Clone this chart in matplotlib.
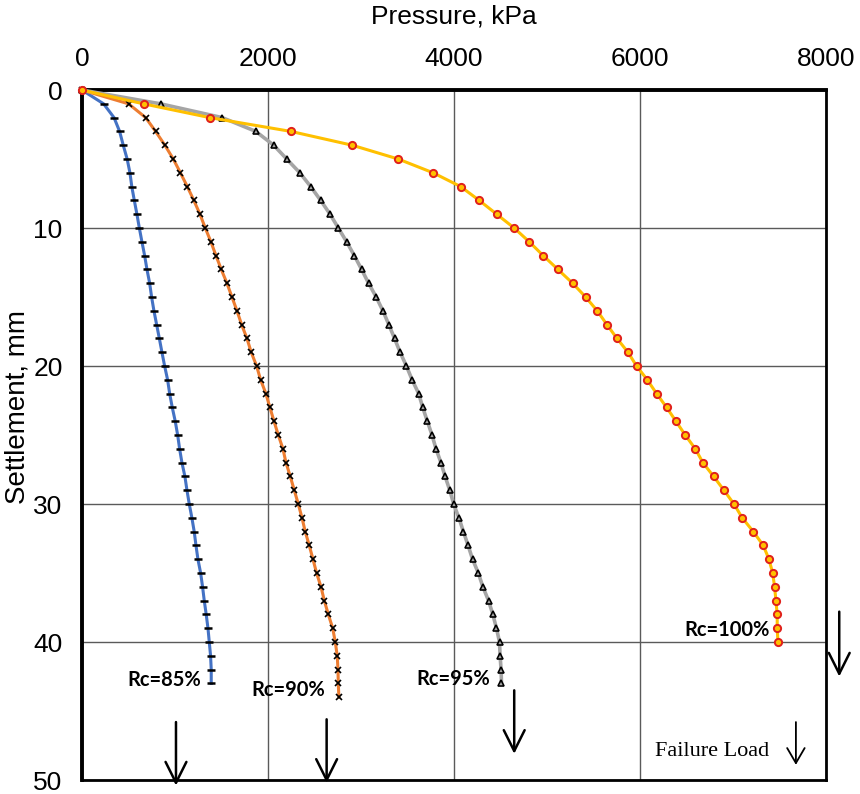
import matplotlib
matplotlib.use("Agg")
import matplotlib.pyplot as plt

# settlement steps (mm) and pressures (kPa), one point per mm
rc85 = [0, 233, 345, 405, 444, 486, 516, 536, 563, 591, 617, 645, 674, 699, 728, 749,
        774, 803, 832, 860, 889, 921, 943, 971, 1003, 1029, 1050, 1075, 1107, 1129, 1154,
        1182, 1207, 1226, 1247, 1276, 1297, 1315, 1336, 1355, 1369, 1383, 1390, 1390]
rc90 = [0, 502, 685, 792, 892, 982, 1059, 1133, 1203, 1269, 1326, 1387, 1441, 1498, 1559,
        1613, 1667, 1717, 1774, 1820, 1878, 1921, 1978, 2021, 2065, 2111, 2161, 2194, 2240,
        2283, 2326, 2366, 2401, 2444, 2484, 2523, 2570, 2606, 2649, 2696, 2724, 2745, 2753,
        2756, 2763]
rc95 = [0, 846, 1509, 1870, 2062, 2202, 2343, 2460, 2567, 2668, 2757, 2846, 2929, 3007,
        3082, 3164, 3236, 3300, 3361, 3421, 3489, 3550, 3621, 3664, 3714, 3764, 3807, 3860,
        3905, 3955, 3997, 4053, 4102, 4152, 4200, 4262, 4311, 4372, 4418, 4457, 4490, 4496,
        4507, 4511]
rc100 = [0, 663, 1376, 2248, 2907, 3401, 3777, 4073, 4272, 4460, 4648, 4810, 4960, 5118,
         5276, 5416, 5541, 5645, 5753, 5871, 5964, 6079, 6179, 6287, 6387, 6487, 6595, 6677,
         6792, 6903, 7011, 7100, 7219, 7326, 7387, 7427, 7448, 7462, 7476, 7476, 7484]

labels = ["Rc=85%", "Rc=90%", "Rc=95%", "Rc=100%"]
label_pos = [(1280, 42.75), (2613, 43.5), (4387, 42.7), (7398, 39.1)]
# failure load arrows: (pressure, top, tip)
failure = [(1011, 45.8, 50.4), (2631, 45.6, 50.2), (4648, 43.5, 48.1), (8143, 37.8, 42.5)]

fig = plt.figure(figsize=(8.6, 7.94), dpi=100)
ax = fig.add_axes([0.0953, 0.0176, 0.8651, 0.8690])

def steps(vals):
    return list(range(len(vals)))

ax.plot(rc85, steps(rc85), color="#4472C4", lw=2.2, marker="_", ms=6, mew=1.8,
        mec="black", clip_on=False, zorder=3)
ax.plot(rc90, steps(rc90), color="#ED7D31", lw=2.2, marker="x", ms=4.5, mew=1.2,
        mec="black", clip_on=False, zorder=3)
ax.plot(rc95, steps(rc95), color="#A5A5A5", lw=2.6, marker="^", ms=5, mew=1.2,
        mec="black", mfc="none", clip_on=False, zorder=3)
ax.plot(rc100, steps(rc100), color="#FFC000", lw=2.2, marker="o", ms=5.2, mew=1.4,
        mec="#E0201B", mfc="#FFC000", clip_on=False, zorder=4)

ax.set_xlim(0, 8000)
ax.set_ylim(50, 0)
ax.set_xticks([0, 2000, 4000, 6000, 8000])
ax.set_yticks([0, 10, 20, 30, 40, 50])
ax.xaxis.tick_top()
ax.xaxis.set_label_position("top")
ax.tick_params(length=0, labelsize=19, pad=14)
for t in ax.get_xticklabels() + ax.get_yticklabels():
    t.set_family("Liberation Sans")

ax.grid(True, color="#5a5a5a", lw=1)
ax.set_axisbelow(True)
for side in ["top", "left", "right", "bottom"]:
    ax.spines[side].set_linewidth(2)
    ax.spines[side].set_color("black")
ax.spines["top"].set_linewidth(2.8)
ax.spines["left"].set_linewidth(2.8)

ax.set_xlabel("Pressure, kPa", fontsize=19, family="Liberation Sans", va="center")
ax.xaxis.set_label_coords(0.5, 1.106)
ax.set_ylabel("Settlement, mm", fontsize=20, family="Liberation Sans", va="center")
ax.yaxis.set_label_coords(-0.086, 0.54)

for txt, (x, y) in zip(labels, label_pos):
    ax.text(x, y, txt, ha="right", va="center", fontsize=14.5, fontweight="bold",
            family="Lato", zorder=5)

for x, y0, y1 in failure:
    ax.annotate("", xy=(x, y1), xytext=(x, y0), annotation_clip=False,
                arrowprops=dict(arrowstyle="->,head_length=0.6,head_width=0.3",
                                lw=1.8, color="black", mutation_scale=25,
                                shrinkA=0, shrinkB=0))

# legend-like note
ax.text(7390, 47.9, "Failure Load", ha="right", va="center", fontsize=16,
        family="Liberation Serif")
ax.annotate("", xy=(7677, 48.9), xytext=(7677, 45.8), annotation_clip=False,
            arrowprops=dict(arrowstyle="->,head_length=0.6,head_width=0.35",
                            lw=1.3, color="black", mutation_scale=18,
                            shrinkA=0, shrinkB=0))

plt.savefig("out.png", dpi=100)
